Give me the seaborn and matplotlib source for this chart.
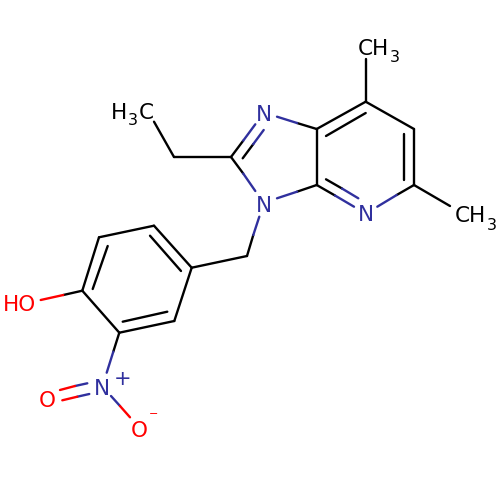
import pandas as pd
import seaborn as sns
import matplotlib
matplotlib.use("Agg")
import matplotlib.pyplot as plt

# bond pieces, in image pixels
black_x0 = [154, 174, 231, 231, 242.7, 316.7, 316.7, 326, 365.7, 365.7, 414, 404, 414, 316.7, 326, 316.7, 316.7, 414,
            247, 247, 191.7, 154, 150, 99, 107.7, 82.3, 119.3, 122.7, 174.3, 82.3, 119.3]
black_y0 = [121.7, 157, 157, 157, 158.3, 129, 129, 136, 101.7, 59, 129, 134.3, 185, 185, 179.3, 129, 185, 185,
            256, 256, 267.7, 225.7, 235.7, 237.3, 246, 290.7, 332.7, 321.7, 321, 290.7, 332.7]
black_x1 = [174, 231, 243.2, 243.2, 253.2, 316.7, 365.7, 365.7, 414, 365.7, 414, 404, 450, 335, 342, 297, 297, 396.7,
            191.7, 253.3, 154, 99, 181, 82.3, 92.7, 119.3, 174.3, 167.3, 191.7, 63.3, 113.3]
black_y1 = [157, 157, 140.7, 173.5, 144.2, 185, 101.7, 113, 129, 101.7, 185, 180, 206, 195.5, 188.5, 123, 191.7, 195,
            267.7, 235, 225.7, 237.3, 271, 290.7, 289, 332.7, 321, 311.7, 267.7, 295, 351.7]
blue_x0 = [243.2, 243.2, 253.2, 277, 277, 335, 342, 377.3, 253.3, 113.3, 87.3, 89.3, 111]
blue_y0 = [140.7, 173.5, 144.2, 116.7, 198.3, 195.5, 188.5, 206.7, 235, 351.7, 383.3, 394, 396]
blue_x1 = [255.3, 255.3, 263.7, 297, 297, 354, 358.3, 396.7, 259.3, 106.7, 75, 77.3, 120]
blue_y1 = [124.3, 191, 130, 123, 191.7, 206.7, 198.3, 195, 216.7, 372.7, 386, 396.7, 406]
red_x0 = [63.3, 75, 77.3, 120]
red_y0 = [295, 386, 396.7, 406]
red_x1 = [40.7, 60, 62.3, 130]
red_y1 = [300, 390, 400.3, 417.3]

labels = ["HO", "N", "O", "O", "N", "N", "N"]
label_x = [19.5, 101.7, 47.3, 139.3, 263.7, 263.7, 365.7]
label_y = [303.3, 386.7, 399, 429.3, 113.3, 204, 213]
label_c = ["red", "blue", "red", "red", "blue", "blue", "blue"]

# methyl groups, letters and their subscript are placed apart
methyl_text = ["H", "3", "C", "CH", "3", "CH", "3"]
methyl_x = [119, 132.7, 146, 373.5, 395, 470.5, 491.7]
methyl_y = [110.7, 119.3, 110.7, 46.7, 56, 214.3, 224]
methyl_size = [15.5, 11.5, 15.5, 15.5, 11.5, 15.5, 11.5]

colors = {"black": "#000000", "blue": "#30309E", "red": "#FF0000"}

rows = []
def add(kind, x0, y0, x1, y1):
    for a, b, c, d in zip(x0, y0, x1, y1):
        seg = len(rows)
        rows.append({"seg": seg, "x": a, "y": b, "kind": kind})
        rows.append({"seg": seg, "x": c, "y": d, "kind": kind})

add("black", black_x0, black_y0, black_x1, black_y1)
add("blue", blue_x0, blue_y0, blue_x1, blue_y1)
add("red", red_x0, red_y0, red_x1, red_y1)
df = pd.DataFrame(rows)

sns.set_style("white")

fig, ax = plt.subplots(figsize=(5, 5), dpi=100)
ax.set_position([0, 0, 1, 1])
sns.lineplot(data=df, x="x", y="y", hue="kind", units="seg", estimator=None, sort=False,
             palette=colors, linewidth=1.7, legend=False, ax=ax)
ax.set_xlim(0, 500)
ax.set_ylim(500, 0)
ax.axis("off")

for t, x, y, c in zip(labels, label_x, label_y, label_c):
    ax.text(x, y, t, color=colors[c], fontsize=15.5, ha="center", va="center_baseline")

for t, x, y, s in zip(methyl_text, methyl_x, methyl_y, methyl_size):
    ax.text(x, y, t, color="black", fontsize=s, ha="center", va="center_baseline")

ax.text(122.7, 377.3, "+", color=colors["blue"], fontsize=15, ha="center", va="center_baseline")
ax.text(153.3, 413.3, "\u2212", color=colors["red"], fontsize=8, ha="center", va="center_baseline")

fig.savefig("out.png", dpi=100)
